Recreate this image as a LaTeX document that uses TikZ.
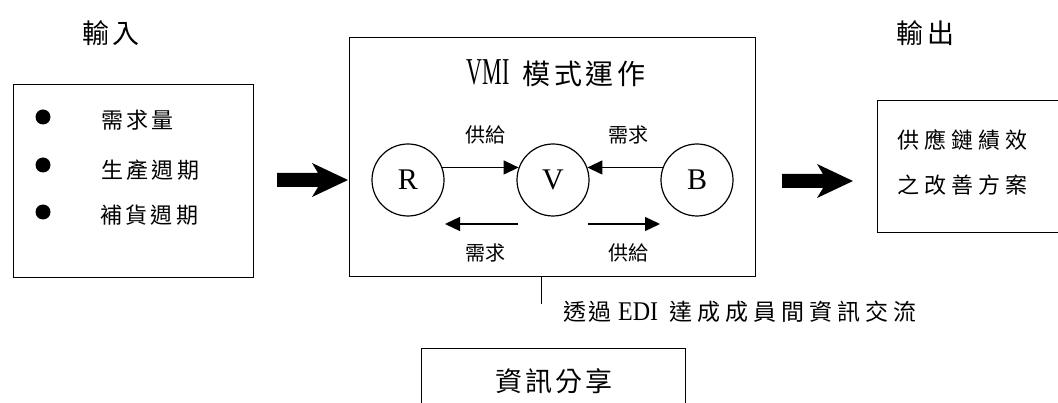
\documentclass[tikz,border=0pt]{standalone}
\usepackage{fontspec}
\usepackage{graphicx}
\setmainfont{Liberation Serif}
\newfontfamily\cjk{Noto Sans CJK TC}
\usetikzlibrary{arrows.meta}
\makeatletter
\def\cjksp#1#2{\def\cjksp@k{#1}\cjksp@first#2\relax}
\def\cjksp@first#1{#1\cjksp@loop}
\def\cjksp@loop#1{\ifx\relax#1\else\hskip\cjksp@k#1\expandafter\cjksp@loop\fi}
\makeatother
\begin{document}
\begin{tikzpicture}[x=1pt,y=-1pt,
  box/.style={draw,line width=1.3pt,inner sep=0pt,anchor=north west},
  circ/.style={draw,circle,line width=1.2pt,minimum size=72pt,inner sep=0pt,font=\fontsize{30}{30}\selectfont},
  lbl/.style={inner sep=0pt,font=\cjk\fontsize{20}{20}\selectfont},
  txt/.style={inner sep=0pt,font=\cjk\fontsize{22}{22}\selectfont},
  bullet/.style={circle,fill=black,minimum size=15pt,inner sep=0pt},
  thinarrow/.style={line width=1.3pt,-{Triangle[length=15pt,width=14pt]}},
  ]
\useasboundingbox (0,0) rectangle (1058,403);
% boxes
\node[box,minimum width=240pt,minimum height=193pt] (inbox) at (13,84) {};
\node[box,minimum width=406pt,minimum height=239pt] (midbox) at (349,37) {};
\node[box,minimum width=220pt,minimum height=132pt] (outbox) at (877,100) {};
\node[box,minimum width=264pt,minimum height=80pt] (sharebox) at (421,348) {};
% titles
\node[txt,font=\cjk\fontsize{27}{27}\selectfont] (tin) at (111,33) {\cjksp{4pt}{輸入}};
\node[txt,font=\cjk\fontsize{27}{27}\selectfont] (tout) at (925,33) {\cjksp{4pt}{輸出}};
% input items
\node[bullet] (b1) at (43,117) {};
\node[bullet] (b2) at (43,165) {};
\node[bullet] (b3) at (43,212) {};
\node[txt,anchor=west] (i1) at (101,120) {\cjksp{3pt}{需求量}};
\node[txt,anchor=west] (i2) at (101,170) {\cjksp{3.3pt}{生產週期}};
\node[txt,anchor=west] (i3) at (100,215) {\cjksp{3.3pt}{補貨週期}};
% VMI title
\node[inner sep=0pt] (vmi) at (556,73) {\scalebox{0.58}[1]{\fontsize{38}{38}\selectfont VMI}\hspace{13pt}{\cjk\fontsize{28}{28}\selectfont\cjksp{3.5pt}{模式運作}}};
% circles
\node[circ] (R) at (408,180) {R};
\node[circ] (V) at (553,180) {V};
\node[circ] (B) at (697,180) {B};
\draw[thinarrow] (R.20) -- (V.160);
\draw[thinarrow] (B.160) -- (V.20);
\coordinate (l1) at (518,224);
\coordinate (l2) at (445,224);
\coordinate (r1) at (588,224);
\coordinate (r2) at (660,224);
\draw[thinarrow] (l1) -- (l2);
\draw[thinarrow] (r1) -- (r2);
\node[lbl] (s1) at (485,135) {供給};
\node[lbl] (d1) at (628,135) {需求};
\node[lbl] (d2) at (485,253) {需求};
\node[lbl] (s2) at (628,253) {供給};
% thick arrows
\coordinate (t1) at (348,180);
\coordinate (t2) at (853,181);
\fill[shift={(t1)}] (-71,-7) -- (-30,-7) -- (-36,-17) -- (0,0) -- (-36,17) -- (-30,7) -- (-71,7) -- cycle;
\fill[shift={(t2)}] (-71,-7) -- (-30,-7) -- (-36,-17) -- (0,0) -- (-36,17) -- (-30,7) -- (-71,7) -- cycle;
% output text
\node[txt,anchor=west] (o1) at (897,140) {\cjksp{5pt}{供應鏈績效}};
\node[txt,anchor=west] (o2) at (897,185) {\cjksp{5pt}{之改善方案}};
% EDI line and text
\coordinate (e1) at ([xshift=-11pt]midbox.south);
\draw[line width=1.3pt] (e1) -- ++(0,27);
\node[inner sep=0pt,anchor=west] (edi) at (563,312) {{\cjk\fontsize{23}{23}\selectfont\cjksp{2pt}{透過}}\hspace{7pt}\scalebox{0.89}[1]{\fontsize{27}{27}\selectfont EDI}\hspace{11pt}{\cjk\fontsize{23}{23}\selectfont\cjksp{5pt}{達成成員間資訊交流}}};
% share text
\node[txt,font=\cjk\fontsize{27}{27}\selectfont] (share) at (554,381) {\cjksp{3pt}{資訊分享}};
\end{tikzpicture}
\end{document}
